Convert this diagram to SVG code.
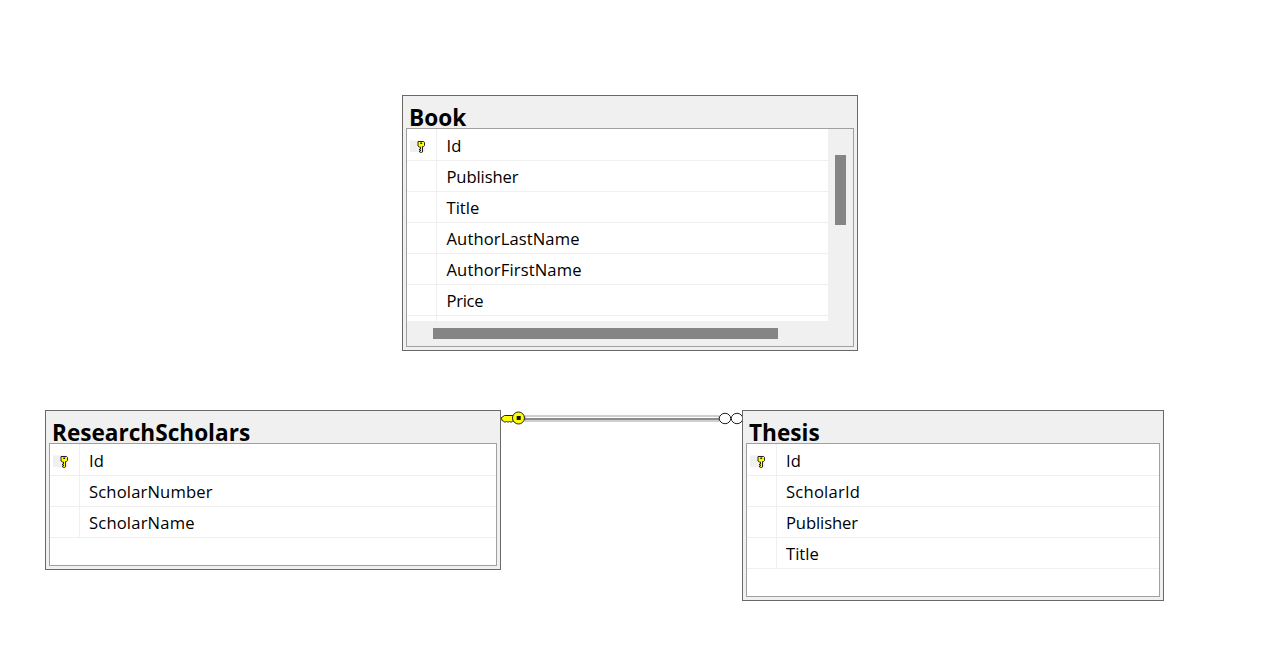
<svg xmlns="http://www.w3.org/2000/svg" xmlns:xlink="http://www.w3.org/1999/xlink" width="1287" height="669" viewBox="0 0 1287 669">
<style>
.outer{fill:#f0f0f0;stroke:#696969;stroke-width:1}
.inner{fill:#fff;stroke:#a0a0a0;stroke-width:1}
.panel{fill:#f0f0f0}
.row{stroke:#efefef;stroke-width:1;fill:none}
.bar{fill:#858585}
.iconbg{fill:#f0f0f0}
.title{font-family:"Open Sans","Noto Sans",sans-serif;font-size:22.6px;font-weight:700;fill:#000}
.col{font-family:"Open Sans","Noto Sans",sans-serif;font-size:16.6px;fill:#000}
</style>
<defs>
<g id="pk">
<rect x="-8" y="-4.500" width="15" height="11.500" class="iconbg"/>
<path d="M0-3.500h5.500l1 1v3l-1 1h-1v5.500l-1 .5h-1l-1-.5v-1h1v-1h-1v-1h1v-2h-1l-1.500-1v-3z" fill="#ffff00" stroke="#222" stroke-width="1"/>
<rect x="2.300" y="-2.500" width="1.800" height="1.500" fill="#222"/>
</g>
</defs>
<g id="connectors">
<rect x="525" y="416" width="194" height="5" fill="#fff" stroke="#a0a0a0" stroke-width="1"/>
<line x1="525" y1="419" x2="719" y2="419" stroke="#666" stroke-width="1.500"/>
<path d="M501 418l3.500-2.500h10v5.500h-2l-1.500 1.500-1.500-1.500-1.500 1.500-1.500-1.500-1.500 1.500-1.500-1.500h-1z" fill="#ffff00" stroke="#222" stroke-width="1"/>
<circle cx="518.500" cy="418" r="6" fill="#ffff00" stroke="#222" stroke-width="1"/>
<rect x="516.700" y="416" width="4" height="4" fill="#111"/>
<ellipse cx="725" cy="418.500" rx="5.700" ry="5.200" fill="#fff" stroke="#222" stroke-width="1"/>
<ellipse cx="737" cy="418.500" rx="5.700" ry="5.200" fill="#fff" stroke="#222" stroke-width="1"/>
</g>
<g id="node-book">
<rect class="outer" x="402.500" y="95.500" width="455" height="255"/>
<text class="title" x="409" y="126">Book</text>
<rect class="inner" x="406.500" y="128.500" width="447" height="218"/>
<rect class="panel" x="828" y="129" width="25" height="217"/>
<rect class="panel" x="407" y="321" width="446" height="25"/>
<path class="row" d="M407 160.500H828M407 191.500H828M407 222.500H828M407 253.500H828M407 284.500H828M407 315.500H828M436.500 129V321"/>
<rect class="bar" x="835" y="155" width="11" height="70"/>
<rect class="bar" x="433" y="328" width="345" height="11"/>
<use xlink:href="#pk" href="#pk" x="418" y="145"/>
<text class="col" x="446.500" y="152">Id</text>
<text class="col" x="446.500" y="183" textLength="72">Publisher</text>
<text class="col" x="446.500" y="214">Title</text>
<text class="col" x="446.500" y="245" textLength="133">AuthorLastName</text>
<text class="col" x="446.500" y="276" textLength="135">AuthorFirstName</text>
<text class="col" x="446.500" y="307" textLength="37">Price</text>
</g>
<g id="node-researchscholars">
<rect class="outer" x="45.500" y="410.500" width="455" height="159"/>
<text class="title" x="52" y="441">ResearchScholars</text>
<rect class="inner" x="49.500" y="443.500" width="447" height="122"/>
<path class="row" d="M50 475.500H496M50 506.500H496M50 537.500H496M79.500 444V537"/>
<use xlink:href="#pk" href="#pk" x="61" y="460"/>
<text class="col" x="89" y="467">Id</text>
<text class="col" x="89" y="498" textLength="123.500">ScholarNumber</text>
<text class="col" x="89" y="529" textLength="105.500">ScholarName</text>
</g>
<g id="node-thesis">
<rect class="outer" x="742.500" y="410.500" width="421" height="190"/>
<text class="title" x="749" y="441">Thesis</text>
<rect class="inner" x="746.500" y="443.500" width="413" height="153"/>
<path class="row" d="M747 475.500H1159M747 506.500H1159M747 537.500H1159M747 568.500H1159M776.500 444V568"/>
<use xlink:href="#pk" href="#pk" x="758" y="460"/>
<text class="col" x="786" y="467">Id</text>
<text class="col" x="786" y="498" textLength="74">ScholarId</text>
<text class="col" x="786" y="529" textLength="72">Publisher</text>
<text class="col" x="786" y="560">Title</text>
</g>
</svg>
